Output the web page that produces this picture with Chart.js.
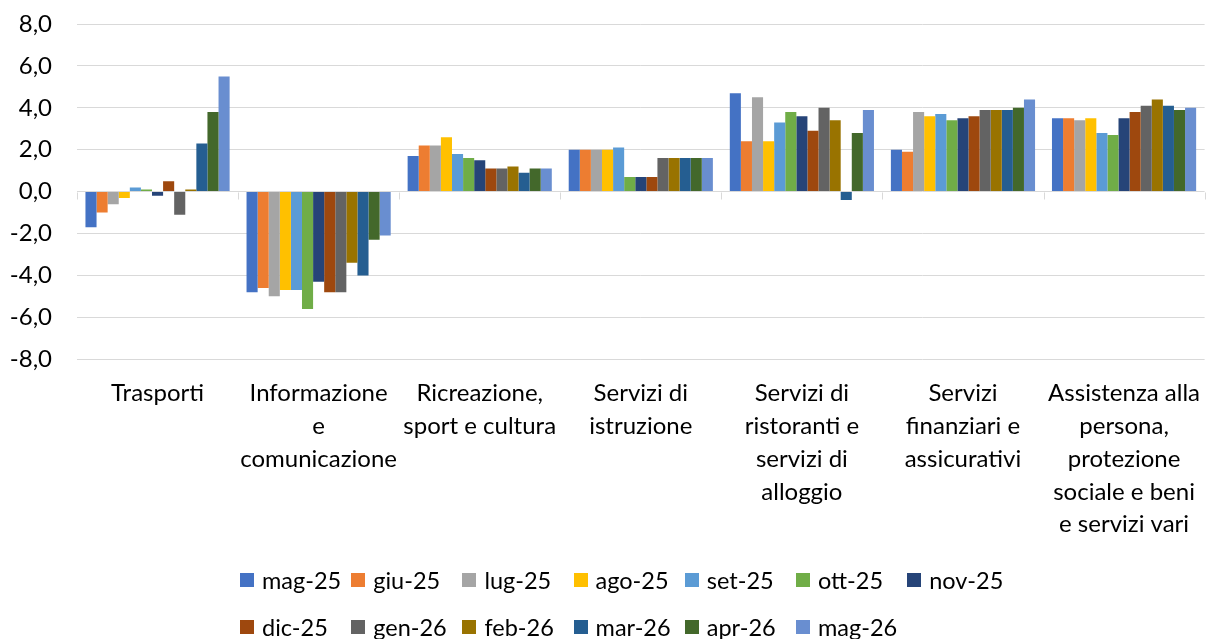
<!DOCTYPE html>
<html>
<head>
<meta charset="utf-8">
<script src="https://cdn.jsdelivr.net/npm/chart.js@4/dist/chart.umd.min.js"></script>
<style>
  html, body { margin: 0; padding: 0; background: #fff; overflow: hidden; }
  #wrap { position: relative; width: 1215px; height: 639px; overflow: hidden; }
  #box { position: absolute; left: 0; top: 0; width: 1218px; height: 560px; }
  #legend { position: absolute; left: 240px; top: 556px; display: grid;
            grid-template-columns: repeat(7, 111.2px); grid-auto-rows: 47px;
            font-family: Lato, sans-serif; font-size: 23.5px; color: #000; }
  .item { display: flex; align-items: center; white-space: nowrap; }
  .sw { width: 14px; height: 14px; margin-right: 8px; flex: none; }
</style>
</head>
<body>
<div id="wrap">
  <div id="box"><canvas id="c"></canvas></div>
  <div id="legend"></div>
</div>
<script>
(function(){
    'use strict';

    // categorie
    var categories = [
        'Trasporti',
        ['Informazione', 'e', 'comunicazione'],
        ['Ricreazione,', 'sport e cultura'],
        ['Servizi di', 'istruzione'],
        ['Servizi di', 'ristoranti e', 'servizi di', 'alloggio'],
        ['Servizi', 'finanziari e', 'assicurativi'],
        ['Assistenza alla', 'persona,', 'protezione', 'sociale e beni', 'e servizi vari']
    ];

    // serie mensili
    var months = ['mag-25','giu-25','lug-25','ago-25','set-25','ott-25','nov-25',
                  'dic-25','gen-26','feb-26','mar-26','apr-26','mag-26'];

    var mag25 = [-1.7, -4.8, 1.7, 2.0, 4.7, 2.0, 3.5];
    var giu25 = [-1.0, -4.6, 2.2, 2.0, 2.4, 1.9, 3.5];
    var lug25 = [-0.6, -5.0, 2.2, 2.0, 4.5, 3.8, 3.4];
    var ago25 = [-0.3, -4.7, 2.6, 2.0, 2.4, 3.6, 3.5];
    var set25 = [ 0.2, -4.7, 1.8, 2.1, 3.3, 3.7, 2.8];
    var ott25 = [ 0.1, -5.6, 1.6, 0.7, 3.8, 3.4, 2.7];
    var nov25 = [-0.2, -4.3, 1.5, 0.7, 3.6, 3.5, 3.5];
    var dic25 = [ 0.5, -4.8, 1.1, 0.7, 2.9, 3.6, 3.8];
    var gen26 = [-1.1, -4.8, 1.1, 1.6, 4.0, 3.9, 4.1];
    var feb26 = [ 0.1, -3.4, 1.2, 1.6, 3.4, 3.9, 4.4];
    var mar26 = [ 2.3, -4.0, 0.9, 1.6, -0.4, 3.9, 4.1];
    var apr26 = [ 3.8, -2.3, 1.1, 1.6, 2.8, 4.0, 3.9];
    var mag26 = [ 5.5, -2.1, 1.1, 1.6, 3.9, 4.4, 4.0];

    var series = [mag25, giu25, lug25, ago25, set25, ott25, nov25,
                  dic25, gen26, feb26, mar26, apr26, mag26];

    var colors = ['#4472C4','#ED7D31','#A5A5A5','#FFC000','#5B9BD5','#70AD47','#264478',
                  '#9E480E','#636363','#997300','#255E91','#43682B','#698ED0'];

    var yTicks = [-8, -6, -4, -2, 0, 2, 4, 6, 8];

    var font = 'Lato, sans-serif';
    var gridColor = '#D9D9D9';

    var datasets = series.map(function(vals, i){
        return {
            label: months[i],
            data: vals,
            backgroundColor: colors[i],
            borderWidth: 0
        };
    });

    // tacche sull'asse dello zero, ai confini delle categorie
    var zeroTicks = {
        id: 'zeroTicks',
        beforeDatasetsDraw: function(chart){
            var x = chart.scales.x, y = chart.scales.y, ctx = chart.ctx;
            var y0 = Math.round(y.getPixelForValue(0)) + 0.5;
            ctx.save();
            ctx.strokeStyle = gridColor;
            ctx.lineWidth = 1;
            ctx.beginPath();
            for (var i = 0; i <= categories.length; i++) {
                var px = Math.round(x.getPixelForValue(i - 0.5)) + 0.5;
                ctx.moveTo(px, y0);
                ctx.lineTo(px, y0 + 7);
            }
            ctx.stroke();
            ctx.restore();
        }
    };

    var chart = new Chart(document.getElementById('c'), {
        type: 'bar',
        data: { labels: categories, datasets: datasets },
        plugins: [zeroTicks],
        options: {
            responsive: true,
            maintainAspectRatio: false,
            animation: false,
            layout: { padding: { top: 24, right: 0, bottom: 1, left: 0 } },
            datasets: { bar: { categoryPercentage: 0.895, barPercentage: 1 } },
            plugins: { legend: { display: false }, tooltip: { enabled: false } },
            scales: {
                x: {
                    grid: { display: false, drawTicks: false },
                    border: { display: false },
                    ticks: {
                        autoSkip: false, maxRotation: 0, minRotation: 0,
                        padding: 18, color: '#000',
                        font: { family: font, size: 24, lineHeight: 1.365 }
                    }
                },
                y: {
                    min: -8, max: 8,
                    afterFit: function(scale){ scale.width = 77; },
                    afterBuildTicks: function(scale){
                        scale.ticks = yTicks.map(function(v){ return { value: v }; });
                    },
                    grid: { color: gridColor, lineWidth: 1, drawTicks: true,
                            tickLength: 25, tickColor: 'rgba(0,0,0,0)' },
                    border: { display: false },
                    ticks: {
                        padding: 0, color: '#000',
                        font: { family: font, size: 24 },
                        callback: function(v){ return v.toFixed(1).replace('.', ','); }
                    }
                }
            }
        }
    });

    // legenda
    var legend = document.getElementById('legend');
    chart.data.datasets.forEach(function(ds){
        var item = document.createElement('div');
        item.className = 'item';
        var sw = document.createElement('span');
        sw.className = 'sw';
        sw.style.background = ds.backgroundColor;
        item.appendChild(sw);
        item.appendChild(document.createTextNode(ds.label));
        legend.appendChild(item);
    });

}());
</script>
</body>
</html>
